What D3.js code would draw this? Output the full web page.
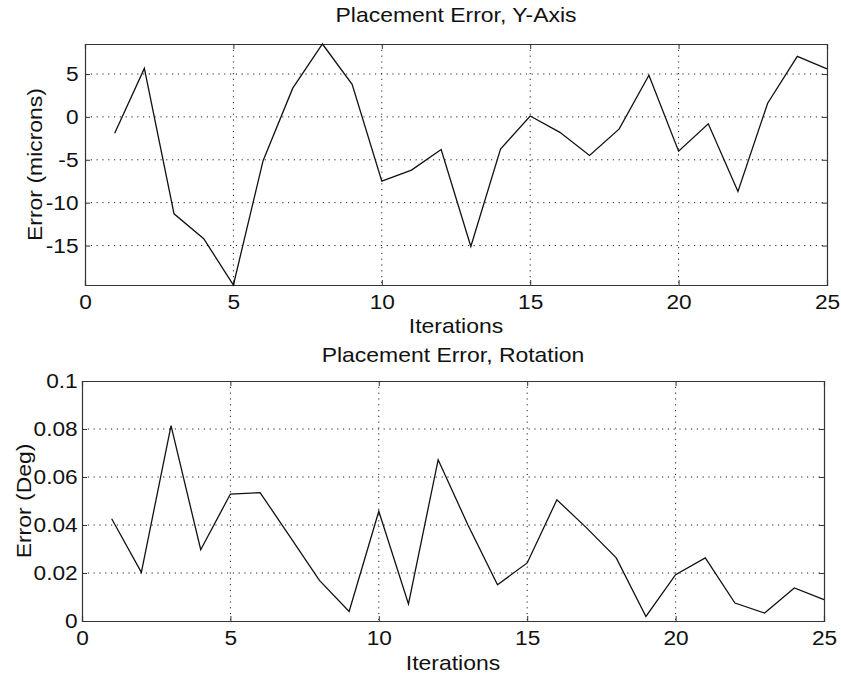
<!DOCTYPE html>
<html>
<head>
<meta charset="utf-8">
<script src="https://cdn.jsdelivr.net/npm/d3@7/dist/d3.min.js"></script>
<style>
  body { margin: 0; background: #fff; }
  svg { display: block; }
  text { font-family: "Liberation Sans", Arial, Helvetica, sans-serif; fill: #111; }
</style>
</head>
<body>
<svg id="chart" width="841" height="676"></svg>
<script>
// ---- Data ----
const iterations = d3.range(1, 26);
const yAxisError = [-1.9, 5.65, -11.3, -14.2, -19.6, -5.1, 3.35, 8.5, 3.8, -7.5,
                    -6.2, -3.8, -15.1, -3.75, 0.1, -1.8, -4.5, -1.4, 4.85, -4.0,
                    -0.8, -8.7, 1.6, 7.05, 5.6];
const rotationError = [0.0426, 0.0203, 0.0814, 0.0297, 0.0529, 0.0535, 0.0353, 0.0169, 0.0040, 0.0457,
                       0.0071, 0.0672, 0.0401, 0.0151, 0.0242, 0.0505, 0.0388, 0.0263, 0.0019, 0.0193,
                       0.0263, 0.0075, 0.0033, 0.0138, 0.0089];
const xTicks = [0, 5, 10, 15, 20, 25];
const yTicksTop = [-15, -10, -5, 0, 5];
const yTicksBottom = [0, 0.02, 0.04, 0.06, 0.08, 0.1];
const yTickLabelsBottom = ["0", "0.02", "0.04", "0.06", "0.08", "0.1"];
const titles = ["Placement Error, Y-Axis", "Placement Error, Rotation"];
const yLabels = ["Error (microns)", "Error (Deg)"];
const xLabel = "Iterations";

const svg = d3.select("#chart");
const TICK_FS = 21, TICK_SX = 1.08;
const LAB_FS = 20.5, LAB_SX = 1.12;

function panel(cfg) {
  const { left, right, top, bottom, values, yDomain, yTicks, yFmt, yPad, title, ylab, titleY, xlabY, ylabX } = cfg;
  const x = d3.scaleLinear().domain([0, 25]).range([left, right]);
  const y = d3.scaleLinear().domain(yDomain).range([bottom, top]);
  const g = svg.append("g");

  // grid
  const grid = g.append("g").attr("stroke", "#222").attr("stroke-width", 1)
    .attr("stroke-dasharray", "1.2,4.6").attr("fill", "none");
  xTicks.filter(t => t > 0 && t < 25).forEach(t => {
    grid.append("line").attr("x1", x(t)).attr("x2", x(t)).attr("y1", top).attr("y2", bottom);
  });
  yTicks.filter(t => y(t) > top + 1 && y(t) < bottom - 1).forEach(t => {
    grid.append("line").attr("x1", left).attr("x2", right).attr("y1", y(t)).attr("y2", y(t));
  });

  // axes
  const ax = g.append("g").attr("transform", `translate(0,${bottom})`)
    .call(d3.axisBottom(x).tickValues(xTicks).tickSize(-5).tickPadding(8).tickFormat(d => String(d)));
  const axTop = g.append("g").attr("transform", `translate(0,${top})`)
    .call(d3.axisTop(x).tickValues(xTicks).tickSize(-5).tickFormat(""));
  const ay = g.append("g").attr("transform", `translate(${left},0)`)
    .call(d3.axisLeft(y).tickValues(yTicks).tickSize(-5).tickPadding(yPad).tickFormat(yFmt));
  const ayR = g.append("g").attr("transform", `translate(${right},0)`)
    .call(d3.axisRight(y).tickValues(yTicks).tickSize(-5).tickFormat(""));
  [ax, axTop, ay, ayR].forEach(a => {
    a.select(".domain").attr("stroke", "#333").attr("stroke-width", 1.2);
    a.selectAll(".tick line").attr("stroke", "#333");
    a.selectAll("text").attr("font-size", TICK_FS).attr("fill", "#111")
      .attr("font-family", "Liberation Sans, Arial, sans-serif");
  });
  ax.selectAll(".tick text").attr("transform", `scale(${TICK_SX},1)`).attr("dy", "0.75em");
  ay.selectAll(".tick text").attr("transform", `scale(${TICK_SX},1)`);

  // line
  const line = d3.line().x((d, i) => x(iterations[i])).y(d => y(d));
  g.append("path").datum(values).attr("fill", "none").attr("stroke", "#111")
    .attr("stroke-width", 1.3).attr("stroke-linejoin", "miter").attr("d", line);

  // title & labels
  const cx = (left + right) / 2;
  g.append("text").attr("transform", `translate(${cx},${titleY}) scale(${LAB_SX},1)`)
    .attr("text-anchor", "middle").attr("font-size", LAB_FS).text(title);
  g.append("text").attr("transform", `translate(${cx},${xlabY}) scale(${LAB_SX},1)`)
    .attr("text-anchor", "middle").attr("font-size", LAB_FS).text(xLabel);
  g.append("text").attr("transform", `translate(${ylabX},${(top + bottom) / 2}) rotate(-90) scale(${LAB_SX},1)`)
    .attr("text-anchor", "middle").attr("font-size", LAB_FS).text(ylab);
}

panel({
  left: 85, right: 827, top: 44, bottom: 285,
  values: yAxisError, yDomain: d3.extent(yAxisError), yTicks: yTicksTop, yPad: 6,
  yFmt: d => String(d), title: titles[0], ylab: yLabels[0],
  titleY: 22, xlabY: 333, ylabX: 42
});
panel({
  left: 82, right: 824, top: 381, bottom: 621,
  values: rotationError, yDomain: [0, 0.1], yTicks: yTicksBottom, yPad: 4,
  yFmt: (d, i) => yTickLabelsBottom[i], title: titles[1], ylab: yLabels[1],
  titleY: 362, xlabY: 670, ylabX: 31
});
</script>
</body>
</html>
